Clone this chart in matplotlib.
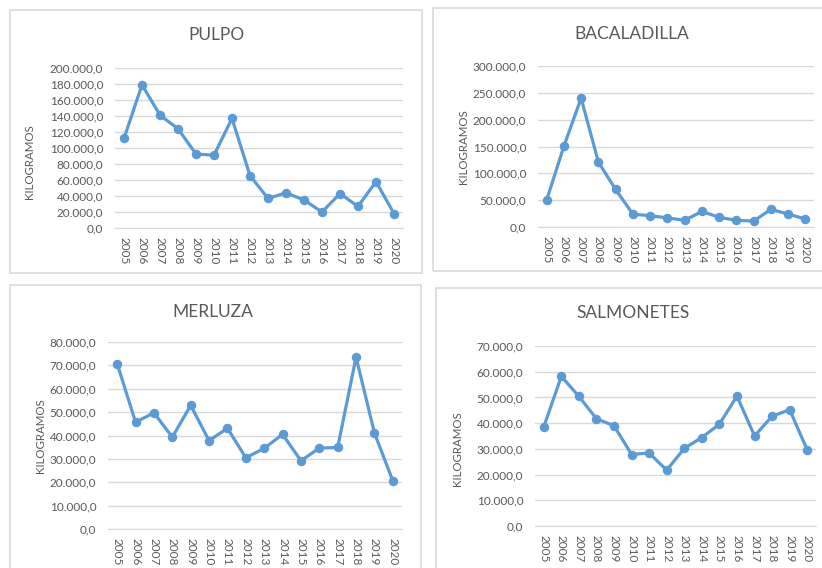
import matplotlib
matplotlib.use("Agg")
import matplotlib.pyplot as plt
from matplotlib.patches import Rectangle
from matplotlib.ticker import FuncFormatter, MultipleLocator

plt.rcParams['font.family'] = ['Lato', 'DejaVu Sans']

# ----------------------------
# Data (kilogramos por año)
# ----------------------------
years = [str(y) for y in range(2005, 2021)]

pulpo = [112000, 179000, 141000, 124000, 92500, 91000, 137000, 65500,
         37000, 44000, 35000, 20000, 43000, 27000, 58000, 18000]
bacaladilla = [50000, 150500, 240000, 121000, 70000, 24000, 21000, 17000,
               12500, 29000, 18000, 12500, 11000, 33000, 24000, 15000]
merluza = [70700, 45700, 49700, 39300, 52900, 37800, 43100, 30500,
           34500, 40500, 29200, 34600, 34900, 73500, 41100, 20600]
salmonetes = [38600, 58200, 50400, 41700, 39000, 27800, 28400, 21700,
              30200, 34400, 39600, 50500, 35000, 42700, 45200, 29600]

titles = ["PULPO", "BACALADILLA", "MERLUZA", "SALMONETES"]
y_max = [200000, 300000, 80000, 70000]
y_step = [20000, 50000, 10000, 10000]

W, H = 822, 568
BLUE = "#5B9BD5"
GREY = "#D9D9D9"
TXT = "#595959"


def es_format(v, pos=None):
    # 200000 -> "200.000,0"
    s = f"{v:,.1f}"
    return s.replace(",", "X").replace(".", ",").replace("X", ".")


def px_axes(x0, y0, x1, y1):
    return [x0 / W, 1 - y1 / H, (x1 - x0) / W, (y1 - y0) / H]


fig = plt.figure(figsize=(W / 100, H / 100), dpi=100)

# panel frames (x0, y0, x1, y1) in pixels
frames = [(10, 10, 422, 273), (433, 8, 830, 271),
          (10, 285, 421, 580), (436, 288, 830, 580)]
for x0, y0, x1, y1 in frames:
    fig.patches.append(Rectangle((x0 / W, 1 - y1 / H), (x1 - x0) / W, (y1 - y0) / H,
                                 transform=fig.transFigure, fill=False,
                                 edgecolor=GREY, linewidth=1.2))

axes_px = [(115, 68, 403, 228), (538, 66, 814, 227),
           (108, 342, 402, 529), (535, 346, 816, 526)]
title_px = [(216, 35), (632, 34), (213, 312), (633, 313)]
ylabel_px = [(30, 162), (463, 147), (40, 436), (457, 449)]
series = [pulpo, bacaladilla, merluza, salmonetes]

for i in range(4):
    ax = fig.add_axes(px_axes(*axes_px[i]))
    x = list(range(len(years)))
    ax.plot(x, series[i], color=BLUE, linewidth=2.3, marker='o',
            markersize=5.8, zorder=3, clip_on=False)
    ax.set_xlim(-0.5, len(years) - 0.5)
    ax.set_ylim(0, y_max[i])
    ax.yaxis.set_major_locator(MultipleLocator(y_step[i]))
    ax.yaxis.set_major_formatter(FuncFormatter(es_format))
    ax.set_xticks(x)
    ax.set_xticklabels(years, rotation=270)
    ax.grid(axis='y', color=GREY, linewidth=1.0, zorder=0)
    ax.set_axisbelow(True)
    for side in ['top', 'right', 'left']:
        ax.spines[side].set_visible(False)
    ax.spines['bottom'].set_color(GREY)
    ax.tick_params(axis='both', length=0, labelsize=8.5, labelcolor=TXT)
    ax.tick_params(axis='y', pad=8.5)
    ax.tick_params(axis='x', pad=6.5)

    tx, ty = title_px[i]
    fig.text(tx / W, 1 - ty / H, titles[i], ha='center', va='center',
             fontsize=12.5, color=TXT)
    lx, ly = ylabel_px[i]
    fig.text(lx / W, 1 - ly / H, "KILOGRAMOS", ha='center', va='center',
             rotation=90, fontsize=8.3, color=TXT)

fig.savefig("out.png", dpi=100)
